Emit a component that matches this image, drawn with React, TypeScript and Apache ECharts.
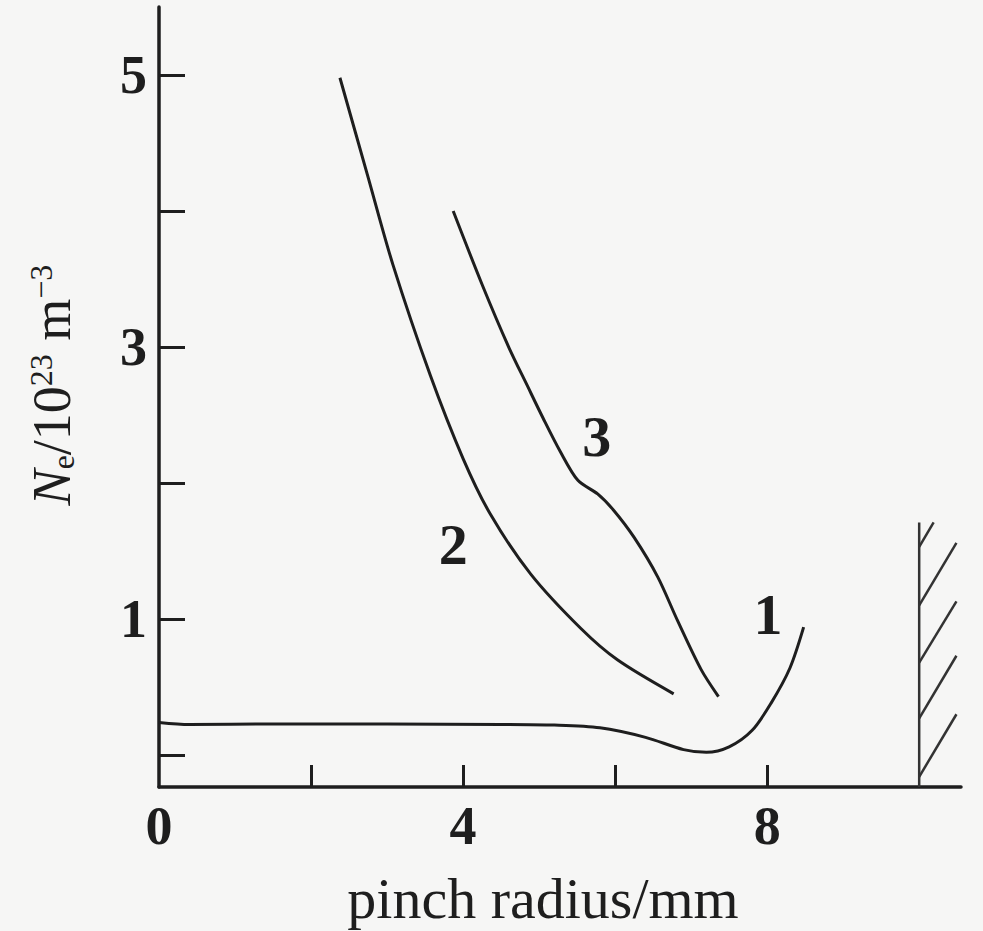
import React, { useEffect, useRef } from "react";
import * as echarts from "echarts";

// Curve 1
const curve1X = [0, 0.4, 1.5, 3, 4.5, 5.2, 5.8, 6.4, 6.9, 7.2, 7.5, 7.8, 8.05, 8.3, 8.48];
const curve1Y = [0.24, 0.225, 0.228, 0.228, 0.225, 0.22, 0.2, 0.13, 0.04, 0.02, 0.06, 0.18, 0.38, 0.64, 0.94];
// Curve 2
const curve2X = [2.38, 2.74, 3.08, 3.57, 4.0, 4.36, 4.89, 5.55, 6.03, 6.77];
const curve2Y = [4.98, 4.27, 3.6, 2.79, 2.18, 1.77, 1.33, 0.93, 0.7, 0.45];
// Curve 3
const curve3X = [3.87, 4.25, 4.6, 4.85, 5.05, 5.28, 5.51, 5.77, 5.98, 6.25, 6.56, 6.82, 7.13, 7.36];
const curve3Y = [4.0, 3.46, 3.0, 2.71, 2.48, 2.23, 2.02, 1.92, 1.8, 1.6, 1.31, 0.99, 0.63, 0.43];

// Curve labels
const curveLabelNames = ["1", "2", "3"];
const curveLabelX = [8.01, 3.87, 5.76];
const curveLabelY = [1.03, 1.55, 2.34];

// Axis ticks and labels
const xTickValues = [2, 4, 6, 8];
const xLabelValues = [0, 4, 8];
const yTickValues = [0, 1, 2, 3, 4, 5];
const yLabelValues = [1, 3, 5];

// Wall (electrode) at r = 10 mm
const wallX = [10, 10];
const wallY = [-0.235, 1.71];
const hatchSegments = [
  [[10, 1.53], [10.19, 1.71]],
  [[10, 1.1], [10.49, 1.56]],
  [[10, 0.68], [10.49, 1.13]],
  [[10, 0.27], [10.49, 0.73]],
  [[10, -0.16], [10.49, 0.3]],
];

const INK = "#1e1e1e";
const SERIF = "Liberation Serif";

function zip(xs: number[], ys: number[]) {
  return xs.map((x, i) => [x, ys[i]]);
}

export default function App() {
  const ref = useRef<HTMLDivElement>(null);
  useEffect(() => {
    if (!ref.current) return;
    const chart = echarts.init(ref.current, null, { renderer: "svg" });
    const lineSeries = (data: number[][]) => ({
      type: "line",
      data,
      smooth: 0.3,
      symbol: "none",
      lineStyle: { color: INK, width: 3 },
      z: 3,
    });
    chart.setOption({
      animation: false,
      backgroundColor: "#f6f6f5",
      grid: { left: 159, right: 22, top: 7, bottom: 144, outerBoundsMode: "none" },
      xAxis: {
        type: "value",
        min: 0,
        max: 10.55,
        name: "pinch radius/mm",
        nameLocation: "middle",
        nameGap: 82,
        nameTextStyle: {
          fontFamily: SERIF,
          fontSize: 58,
          color: INK,
          padding: [0, 34, 0, 0],
        },
        axisLine: { show: true, onZero: false, lineStyle: { color: INK, width: 3.5 } },
        axisTick: {
          show: true,
          inside: true,
          length: 22,
          customValues: xTickValues,
          lineStyle: { color: INK, width: 3 },
        },
        axisLabel: {
          show: true,
          customValues: xLabelValues,
          margin: 12,
          fontFamily: SERIF,
          fontWeight: "bold",
          fontSize: 54,
          color: INK,
        },
        splitLine: { show: false },
      },
      yAxis: {
        type: "value",
        min: -0.235,
        max: 5.5,
        name: "{n|N}{sub|e}{r|/10}{sup|23}{r| m}{sup|−3}",
        nameLocation: "middle",
        nameGap: 80,
        nameTextStyle: {
          color: INK,
          fontFamily: SERIF,
          padding: [0, 0, 0, 24],
          rich: {
            n: { fontFamily: SERIF, fontStyle: "italic", fontSize: 54, color: INK },
            r: { fontFamily: SERIF, fontSize: 54, color: INK },
            sub: { fontFamily: SERIF, fontSize: 32, color: INK, verticalAlign: "bottom" },
            sup: { fontFamily: SERIF, fontSize: 32, color: INK, verticalAlign: "top" },
          },
        },
        axisLine: { show: true, onZero: false, lineStyle: { color: INK, width: 3.5 } },
        axisTick: {
          show: true,
          inside: true,
          length: 26,
          customValues: yTickValues,
          lineStyle: { color: INK, width: 3 },
        },
        axisLabel: {
          show: true,
          customValues: yLabelValues,
          margin: 12,
          fontFamily: SERIF,
          fontWeight: "bold",
          fontSize: 54,
          color: INK,
        },
        splitLine: { show: false },
      },
      series: [
        lineSeries(zip(curve1X, curve1Y)),
        lineSeries(zip(curve2X, curve2Y)),
        lineSeries(zip(curve3X, curve3Y)),
        {
          type: "scatter",
          symbolSize: 0,
          itemStyle: { opacity: 1, color: "rgba(0,0,0,0)" },
          data: curveLabelNames.map((n, i) => ({ name: n, value: [curveLabelX[i], curveLabelY[i]] })),
          label: {
            show: true,
            position: "inside",
            formatter: (p: any) => p.name,
            fontFamily: SERIF,
            fontWeight: "bold",
            fontSize: 58,
            color: INK,
            opacity: 1,
            textBorderWidth: 0,
          },
          z: 4,
        },
        {
          type: "line",
          data: zip(wallX, wallY),
          symbol: "none",
          lineStyle: { color: "#333", width: 2.5 },
        },
        {
          type: "lines",
          coordinateSystem: "cartesian2d",
          data: hatchSegments.map((c) => ({ coords: c })),
          lineStyle: { color: "#333", width: 2.5, opacity: 1 },
        },
      ],
    });
    return () => chart.dispose();
  }, []);
  return (
    <div
      ref={ref}
      style={{ position: "fixed", left: 0, top: 0, width: 983, height: 931 }}
    />
  );
}
